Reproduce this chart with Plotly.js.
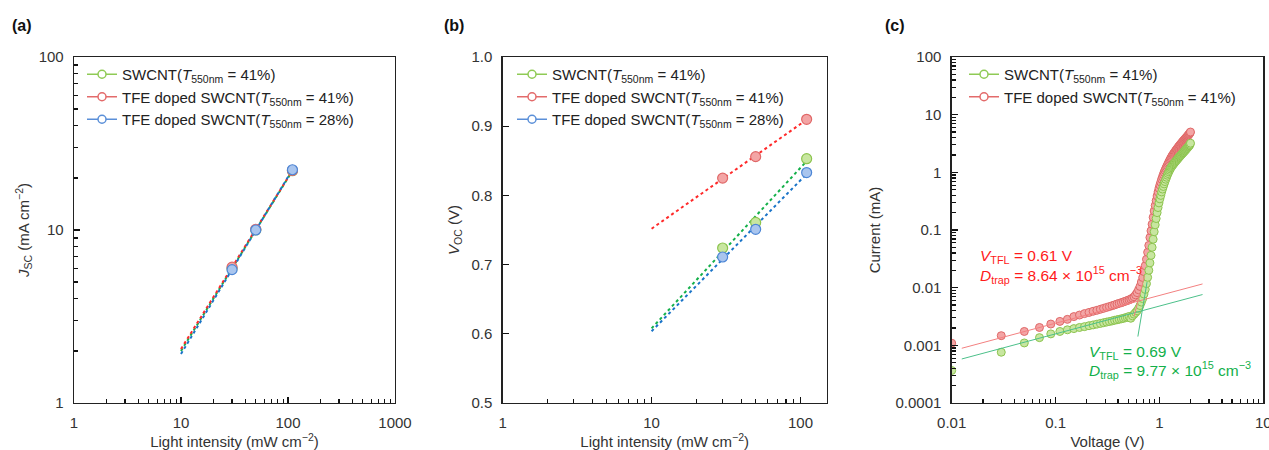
<!DOCTYPE html>
<html>
<head>
<meta charset="utf-8">
<script src="https://cdn.plot.ly/plotly-3.0.1.min.js"></script>
<style>html,body{margin:0;padding:0;background:#fff;}#chart{width:1269px;height:450px;}</style>
</head>
<body>
<div id="chart"></div>
<script>
// ---------- data ----------
const intensity = [30, 50, 110];
const jscSWCNT = [6.0, 10.0, 22.0];
const jscTFE41 = [6.1, 10.1, 22.1];
const jscTFE28 = [5.9, 10.0, 22.3];
const vocSWCNT = [0.724, 0.761, 0.853];
const vocTFE41 = [0.825, 0.856, 0.910];
const vocTFE28 = [0.711, 0.751, 0.833];
const fitIntensity = [10, 110];

const voltage = [0.01,0.03,0.05,0.07,0.09,0.11,0.13,0.15,0.17,0.19,0.21,0.23,0.25,0.27,0.29,0.31,0.33,0.35,0.37,0.39,
0.41,0.43,0.45,0.47,0.49,0.51,0.53,0.55,0.57,0.59,0.61,0.63,0.65,0.67,0.69,0.71,0.73,0.75,0.77,0.79,
0.81,0.83,0.85,0.87,0.89,0.91,0.93,0.95,0.97,0.99,1.01,1.03,1.05,1.07,1.09,1.11,1.13,1.15,1.17,1.19,
1.21,1.23,1.25,1.27,1.29,1.31,1.33,1.35,1.37,1.39,1.41,1.43,1.45,1.47,1.49,1.51,1.53,1.55,1.57,1.59,
1.61,1.63,1.65,1.67,1.69,1.71,1.73,1.75,1.77,1.79,1.81,1.83,1.85,1.87,1.89,1.91,1.93,1.95,1.97,1.99];
const currentSWCNT = [0.000366,0.00076,0.00110,0.00136,0.00158,0.00174,0.00186,0.00195,0.00204,0.00211,
0.00219,0.00226,0.00233,0.00240,0.00247,0.00253,0.00259,0.00265,0.00272,0.00277,
0.00283,0.00288,0.00294,0.00301,0.00308,0.00316,0.00295,0.00324,0.00347,0.00372,
0.00398,0.00437,0.0049,0.00562,0.00646,0.00776,0.00933,0.01175,0.0151,0.0200,
0.0269,0.0363,0.0501,0.0692,0.0933,0.123,0.158,0.200,0.245,0.295,
0.347,0.398,0.457,0.513,0.569,0.631,0.692,0.759,0.822,0.891,
0.955,1.023,1.084,1.148,1.208,1.259,1.309,1.358,1.406,1.452,
1.50,1.549,1.596,1.644,1.694,1.742,1.791,1.841,1.892,1.941,
1.991,2.042,2.094,2.148,2.198,2.249,2.301,2.355,2.41,2.466,
2.523,2.582,2.642,2.704,2.767,2.831,2.897,2.965,3.05,3.2];
const currentTFE = [0.00109,0.00147,0.00174,0.00204,0.00234,0.0026,0.00282,0.00315,0.00335,0.00355,
0.00372,0.0039,0.00405,0.00422,0.00438,0.00455,0.0047,0.00487,0.00503,0.0052,
0.00535,0.0055,0.00566,0.00582,0.00598,0.00615,0.00635,0.0066,0.00695,0.0075,
0.0082,0.0092,0.0105,0.0125,0.015,0.019,0.024,0.031,0.041,0.054,
0.0741,0.0966,0.126,0.166,0.214,0.266,0.324,0.389,0.457,0.531,
0.603,0.676,0.759,0.832,0.912,1.0,1.08,1.16,1.24,1.32,
1.41,1.50,1.59,1.68,1.77,1.86,1.95,2.03,2.11,2.19,
2.27,2.36,2.44,2.52,2.61,2.69,2.78,2.86,2.95,3.03,
3.12,3.20,3.29,3.38,3.46,3.55,3.64,3.73,3.82,3.91,
4.00,4.09,4.19,4.28,4.38,4.48,4.59,4.70,4.85,5.0];

const ohmicFitV = [0.0125, 2.6];
const ohmicFitTFE = [0.00089, 0.0116];
const ohmicFitSWCNT = [0.00058, 0.0076];
const sclcFitSWCNTV = [0.62, 0.76];
const sclcFitSWCNT = [0.00142, 0.0125];
const sclcFitTFEV = [0.57, 0.72];
const sclcFitTFE = [0.0032, 0.016];

// axis ranges (decades for log axes)
const rangeA_x = [0, 3], rangeA_y = [0, 2];
const rangeB_x = [0, Math.log10(150)], rangeB_y = [0.5, 1.0];
const rangeC_x = [-2, 1], rangeC_y = [-4, 2];

const nameSW = 'SWCNT(<i>T</i><sub>550nm</sub> = 41%)';
const nameT41 = 'TFE doped SWCNT(<i>T</i><sub>550nm</sub> = 41%)';
const nameT28 = 'TFE doped SWCNT(<i>T</i><sub>550nm</sub> = 28%)';

// ---------- styles ----------
const FONT = '"Liberation Sans", Arial, sans-serif';
const col = {
  green: {fill: '#c8e6a0', line: '#8cc44e', leg: '#8fca55', fit: '#14b04a', tfit: '#4cc08a'},
  red:   {fill: '#f3a5a5', line: '#e06868', leg: '#e36b6b', fit: '#ff2a2a', tfit: '#f38080'},
  blue:  {fill: '#a9c5ee', line: '#4d86d6', leg: '#5a8fd8', fit: '#1a74c8'}
};

// ---------- helpers ----------
function lsFit(xs, ys, logY) {
  const X = xs.map(Math.log10);
  const Y = logY ? ys.map(Math.log10) : ys.slice();
  const n = X.length;
  const mx = X.reduce((a, b) => a + b, 0) / n;
  const my = Y.reduce((a, b) => a + b, 0) / n;
  let sxy = 0, sxx = 0;
  for (let i = 0; i < n; i++) { sxy += (X[i] - mx) * (Y[i] - my); sxx += (X[i] - mx) ** 2; }
  const m = sxy / sxx, b = my - m * mx;
  return v => { const r = m * Math.log10(v) + b; return logY ? Math.pow(10, r) : r; };
}

const traces = [];
function legendEntry(name, c, legendId, xa, ya) {
  traces.push({x: [null], y: [null], xaxis: xa, yaxis: ya, mode: 'lines+markers', name: name,
    legend: legendId, showlegend: true,
    line: {color: c.leg, width: 1.5},
    marker: {size: 8, color: '#ffffff', line: {color: c.leg, width: 1.5}}});
}

// panel (a)
const pa = [[jscSWCNT, col.green], [jscTFE41, col.red], [jscTFE28, col.blue]];
pa.forEach(([ys, c]) => {
  const f = lsFit(intensity, ys, true);
  traces.push({x: fitIntensity, y: fitIntensity.map(f), xaxis: 'x', yaxis: 'y', mode: 'lines',
    line: {color: c.fit, width: 2, dash: 'dot'}, showlegend: false, hoverinfo: 'skip'});
});
pa.forEach(([ys, c]) => traces.push({x: intensity, y: ys, xaxis: 'x', yaxis: 'y', mode: 'markers', showlegend: false,
  marker: {size: 10, color: c.fill, line: {color: c.line, width: 1.2}}}));
legendEntry(nameSW, col.green, 'legend', 'x', 'y');
legendEntry(nameT41, col.red, 'legend', 'x', 'y');
legendEntry(nameT28, col.blue, 'legend', 'x', 'y');

// panel (b)
const pb = [[vocSWCNT, col.green], [vocTFE41, col.red], [vocTFE28, col.blue]];
pb.forEach(([ys, c]) => {
  const f = lsFit(intensity, ys, false);
  traces.push({x: fitIntensity, y: fitIntensity.map(f), xaxis: 'x2', yaxis: 'y2', mode: 'lines',
    line: {color: c.fit, width: 2, dash: 'dot'}, showlegend: false, hoverinfo: 'skip'});
});
pb.forEach(([ys, c]) => traces.push({x: intensity, y: ys, xaxis: 'x2', yaxis: 'y2', mode: 'markers', showlegend: false,
  marker: {size: 10, color: c.fill, line: {color: c.line, width: 1.2}}}));
legendEntry(nameSW, col.green, 'legend2', 'x2', 'y2');
legendEntry(nameT41, col.red, 'legend2', 'x2', 'y2');
legendEntry(nameT28, col.blue, 'legend2', 'x2', 'y2');

// panel (c)
traces.push({x: voltage, y: currentTFE, xaxis: 'x3', yaxis: 'y3', mode: 'markers', showlegend: false,
  marker: {size: 8, color: col.red.fill, line: {color: col.red.line, width: 1}}});
traces.push({x: voltage, y: currentSWCNT, xaxis: 'x3', yaxis: 'y3', mode: 'markers', showlegend: false,
  marker: {size: 8, color: col.green.fill, line: {color: col.green.line, width: 1}}});
traces.push({x: ohmicFitV, y: ohmicFitTFE, xaxis: 'x3', yaxis: 'y3', mode: 'lines', showlegend: false,
  line: {color: col.red.tfit, width: 1}});
traces.push({x: ohmicFitV, y: ohmicFitSWCNT, xaxis: 'x3', yaxis: 'y3', mode: 'lines', showlegend: false,
  line: {color: col.green.tfit, width: 1}});
traces.push({x: sclcFitTFEV, y: sclcFitTFE, xaxis: 'x3', yaxis: 'y3', mode: 'lines', showlegend: false,
  line: {color: col.red.tfit, width: 1}});
traces.push({x: sclcFitSWCNTV, y: sclcFitSWCNT, xaxis: 'x3', yaxis: 'y3', mode: 'lines', showlegend: false,
  line: {color: col.green.tfit, width: 1}});
legendEntry(nameSW, col.green, 'legend3', 'x3', 'y3');
legendEntry(nameT41, col.red, 'legend3', 'x3', 'y3');

// ---------- layout ----------
const W = 1269, H = 450;
const px = v => v / W, py = v => 1 - v / H;
const tickFont = {family: FONT, size: 15, color: '#333'};
const titleFont = {family: FONT, size: 15, color: '#333'};
const minorLog = {ticks: 'inside', ticklen: 4, tickcolor: '#111', tickwidth: 1.2, showgrid: false, nticks: 9};
function axis(extra) {
  return Object.assign({
    showline: true, linecolor: '#222', linewidth: 1.3, mirror: true,
    ticks: 'inside', ticklen: 6, tickcolor: '#111', tickwidth: 1.3,
    showgrid: false, zeroline: false, tickfont: tickFont, ticklabelstandoff: 6,
    ticklabeloverflow: 'allow'
  }, extra);
}
function logAxis(extra) {
  return axis(Object.assign({type: 'log', tickmode: 'linear', tick0: 0, dtick: 1,
    exponentformat: 'none', minor: minorLog}, extra));
}
const yDom = [py(403), py(57)];
const legendBase = {bgcolor: 'rgba(0,0,0,0)', font: {family: FONT, size: 15, color: '#222'},
  xanchor: 'left', yanchor: 'top', tracegroupgap: 0, itemwidth: 30};
const panelFont = {family: FONT, size: 16, color: '#111'};
const redTxt = {family: FONT, size: 15.5, color: '#ff1a1a'};
const grnTxt = {family: FONT, size: 15.5, color: '#12b04a'};
function note(text, x, y, font) {
  return {text: text, x: px(x), y: py(y), xref: 'paper', yref: 'paper', xanchor: 'left', yanchor: 'middle', showarrow: false, font: font};
}

const layout = {
  width: W, height: H, margin: {l: 0, r: 0, t: 0, b: 0},
  paper_bgcolor: '#fff', plot_bgcolor: 'rgba(0,0,0,0)', font: {family: FONT},
  xaxis: logAxis({range: rangeA_x, domain: [px(74), px(395)], anchor: 'y',
    title: {text: 'Light intensity (mW cm<sup>−2</sup>)', font: titleFont, standoff: 6}}),
  yaxis: logAxis({range: rangeA_y, domain: yDom, anchor: 'x',
    title: {text: '<i>J</i><sub>SC</sub> (mA cm<sup>−2</sup>)', font: titleFont, standoff: 5}}),
  xaxis2: logAxis({range: rangeB_x, domain: [px(502.7), px(826.7)], anchor: 'y2',
    title: {text: 'Light intensity (mW cm<sup>−2</sup>)', font: titleFont, standoff: 6}}),
  yaxis2: axis({type: 'linear', range: rangeB_y, domain: yDom, anchor: 'x2', dtick: 0.1, tickformat: '.1f',
    title: {text: '<i>V</i><sub>OC</sub> (V)', font: titleFont, standoff: 8}}),
  xaxis3: logAxis({range: rangeC_x, domain: [px(951.7), px(1263.3)], anchor: 'y3',
    title: {text: 'Voltage (V)', font: titleFont, standoff: 6}}),
  yaxis3: logAxis({range: rangeC_y, domain: yDom, anchor: 'x3',
    title: {text: 'Current (mA)', font: titleFont, standoff: 11}}),
  legend: Object.assign({x: px(82), y: py(58)}, legendBase),
  legend2: Object.assign({x: px(512), y: py(58)}, legendBase),
  legend3: Object.assign({x: px(964), y: py(58)}, legendBase),
  showlegend: true,
  annotations: [
    note('<b>(a)</b>', 10, 25, panelFont),
    note('<b>(b)</b>', 442, 25, panelFont),
    note('<b>(c)</b>', 883, 25, panelFont),
    note('<i>V</i><sub>TFL</sub> = 0.61 V', 978, 256, redTxt),
    note('<i>D</i><sub>trap</sub> = 8.64 × 10<sup>15</sup> cm<sup>−3</sup>', 978, 275, redTxt),
    note('<i>V</i><sub>TFL</sub> = 0.69 V', 1086.7, 352, grnTxt),
    note('<i>D</i><sub>trap</sub> = 9.77 × 10<sup>15</sup> cm<sup>−3</sup>', 1086.7, 370, grnTxt)
  ]
};

Plotly.newPlot('chart', traces, layout, {displayModeBar: false, staticPlot: true});
</script>
</body>
</html>
